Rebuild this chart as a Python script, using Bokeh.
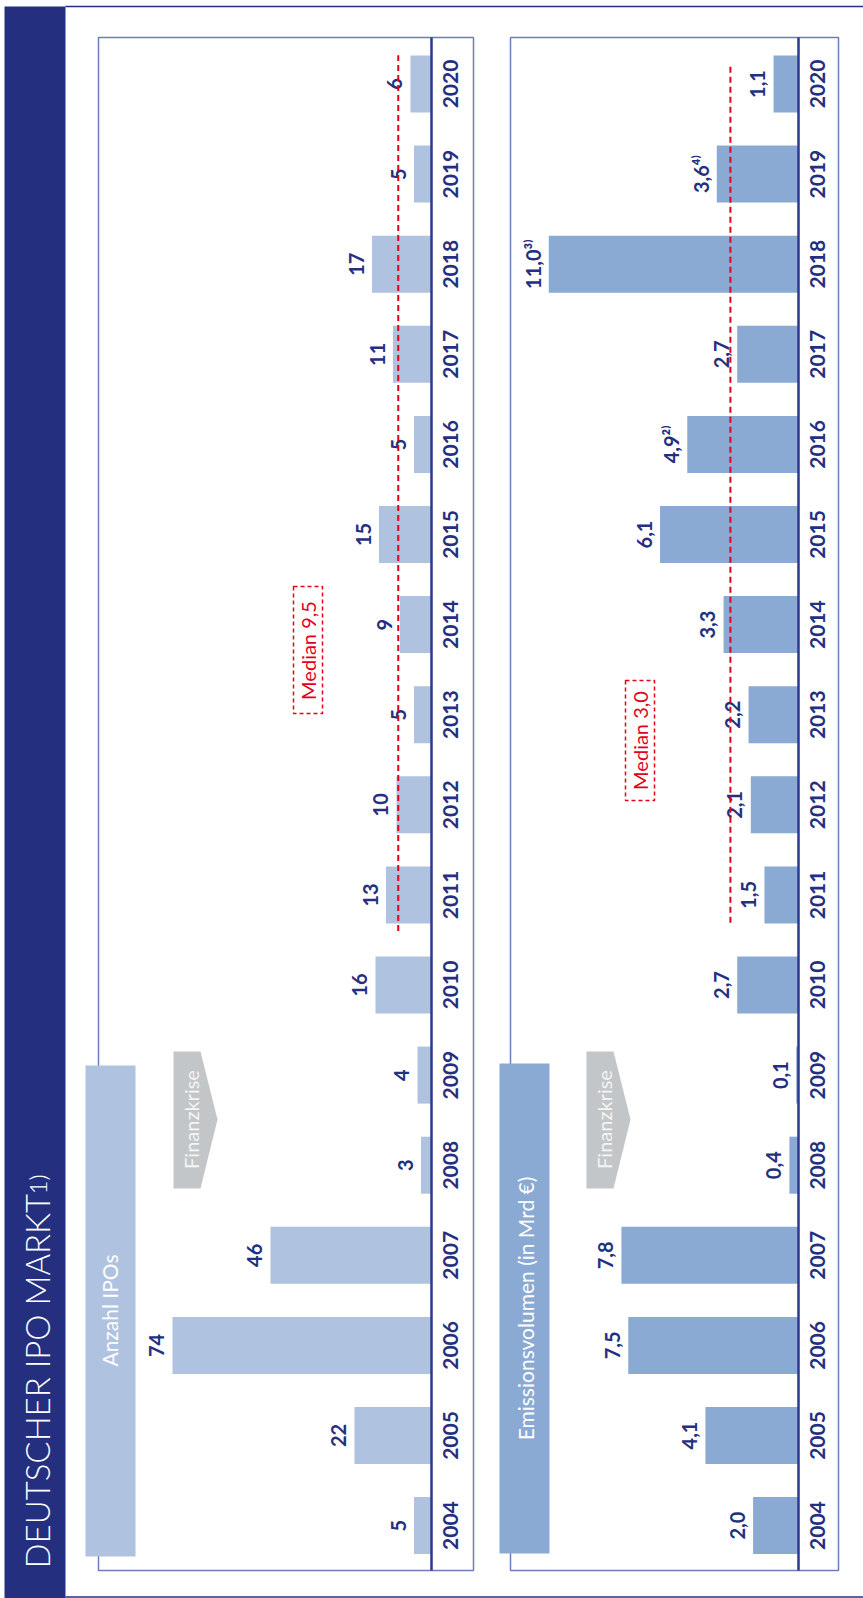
import math
from bokeh.plotting import figure
from bokeh.models import Range1d, ColumnDataSource
from bokeh.core.properties import value
from bokeh.transform import dodge
from bokeh.embed import file_html
from bokeh.resources import INLINE

# ---------------- data ----------------
years = list(range(2004, 2021))
year_labels = [str(y) for y in years]
ipo_count = [5, 22, 74, 46, 3, 4, 16, 13, 10, 5, 9, 15, 5, 11, 17, 5, 6]
ipo_labels = ["5", "22", "74", "46", "3", "4", "16", "13", "10", "5", "9", "15", "5", "11", "17", "5", "6"]
volume = [2.0, 4.1, 7.5, 7.8, 0.4, 0.1, 2.7, 1.5, 2.1, 2.2, 3.3, 6.1, 4.9, 2.7, 11.0, 3.6, 1.1]
volume_labels = ["2,0", "4,1", "7,5", "7,8", "0,4", "0,1", "2,7", "1,5", "2,1", "2,2",
                 "3,3", "6,1", "4,9²⁾", "2,7", "11,0³⁾", "3,6⁴⁾", "1,1"]
median_ipo = 9.5
median_ipo_label = "Median 9,5"
median_volume = 3.0
median_volume_label = "Median 3,0"
median_first_year = 2011
median_last_year = 2020
title = "DEUTSCHER IPO MARKT"
title_note = "1)"
panel_titles = ["Anzahl IPOs", "Emissionsvolumen (in Mrd €)"]
crisis_label = "Finanzkrise"

# ---------------- styling / layout ----------------
W, H = 863, 1598
NAVY = "#24307f"
FRAME = "#6d7db9"
BAR1 = "#afc2e0"
BAR2 = "#8aa9d3"
RED = "#e2001a"
GREY = "#c3c6c9"
FONT = value("Lato")
UP = math.pi / 2

Y_TOP_CENTER = 83.5      # pixel centre of last year
Y_STEP = 90.1            # pixels per year
BAR_H = 57 / Y_STEP

IPO_BASE, IPO_K = 431.0, 3.5
VOL_BASE, VOL_K = 798.0, 22.7
LABEL_GAP = 16           # px from bar end to centre of value label

yr_start = years[-1] - (H - Y_TOP_CENTER) / Y_STEP
yr_end = years[-1] + Y_TOP_CENTER / Y_STEP

p = figure(width=W, height=H, x_range=Range1d(0, W), y_range=Range1d(H, 0),
           output_backend="svg", toolbar_location=None, min_border=0,
           x_axis_location=None, y_axis_location=None)
for r in list(p.center):
    r.visible = False
p.outline_line_color = None
p.background_fill_color = "white"
p.border_fill_color = "white"
p.extra_y_ranges = {"yr": Range1d(yr_start, yr_end)}
p.extra_x_ranges = {
    "ipo": Range1d(IPO_BASE / IPO_K, -(W - IPO_BASE) / IPO_K),
    "vol": Range1d(VOL_BASE / VOL_K, -(W - VOL_BASE) / VOL_K),
}

# ---- page decoration ----
p.quad(left=4, right=65, top=6, bottom=H, fill_color=NAVY, line_color=None)
p.segment(x0=[65, 65], y0=[6, H - 1.5], x1=[W, W], y1=[6, H - 1.5], line_color=NAVY, line_width=1.5)
p.text(x=[36], y=[1568], text=[title], angle=UP, text_color="white",
       text_font=value("Lato Light"), text_font_size="33px", text_align="left",
       text_baseline="middle")
p.text(x=[37], y=[1194], text=[title_note], angle=UP, text_color="white",
       text_font=value("Lato Light"), text_font_size="24px", text_align="left",
       text_baseline="middle")

# panel frames
p.quad(left=[98, 510], right=[473, 838], top=[37, 37], bottom=[1570, 1570],
       fill_color=None, line_color=FRAME, line_width=1.5)

# ---- data: source ----
src = ColumnDataSource(dict(year=years, year_label=year_labels,
                            ipo=ipo_count, ipo_label=ipo_labels,
                            vol=volume, vol_label=volume_labels))

# bars
p.hbar(y="year", left=0, right="ipo", height=BAR_H, source=src, fill_color=BAR1,
       line_color=None, x_range_name="ipo", y_range_name="yr")
p.hbar(y="year", left=0, right="vol", height=BAR_H, source=src, fill_color=BAR2,
       line_color=None, x_range_name="vol", y_range_name="yr")

# baselines
p.segment(x0=[IPO_BASE, VOL_BASE], y0=[37, 37], x1=[IPO_BASE, VOL_BASE], y1=[1570, 1570],
          line_color="#2a3a8c", line_width=2.5)

# panel title boxes
p.quad(left=[85, 499], right=[135, 549], top=[1065, 1063], bottom=[1556, 1553],
       fill_color=[BAR1, BAR2], line_color=None)
p.text(x=[109, 525], y=[1310, 1308], text=panel_titles, angle=UP, text_color="white",
       text_font=FONT, text_font_size="21px", text_align="center", text_baseline="middle")

# crisis arrows
for x0 in (173, 586):
    p.patch(x=[x0, x0 + 27, x0 + 44, x0 + 27, x0], y=[1051, 1051, 1119, 1188, 1188],
            fill_color=GREY, line_color=None)
p.text(x=[190, 603], y=[1119, 1119], text=[crisis_label, crisis_label], angle=UP,
       text_color="#f4f4f4", text_font=FONT, text_font_size="20px", text_align="center",
       text_baseline="middle")

# value labels
p.text(x=dodge("ipo", LABEL_GAP / IPO_K), y="year", text="ipo_label", source=src,
       x_range_name="ipo", y_range_name="yr",
       angle=UP, text_color=NAVY, text_font=FONT, text_font_size="20px",
       text_font_style="bold", text_align="center", text_baseline="middle")
p.text(x=dodge("vol", LABEL_GAP / VOL_K), y="year", text="vol_label", source=src,
       x_range_name="vol", y_range_name="yr",
       angle=UP, text_color=NAVY, text_font=FONT, text_font_size="20px",
       text_font_style="bold", text_align="center", text_baseline="middle")

# year labels
p.text(x=450, y="year", text="year_label", source=src, y_range_name="yr",
       angle=UP, text_color=NAVY, text_font=FONT, text_font_size="21px",
       text_font_style="bold", text_align="center", text_baseline="middle")
p.text(x=817, y="year", text="year_label", source=src, y_range_name="yr",
       angle=UP, text_color=NAVY, text_font=FONT, text_font_size="21px",
       text_font_style="bold", text_align="center", text_baseline="middle")

# median lines
p.segment(x0=[median_ipo], x1=[median_ipo], y0=[median_first_year - 0.4],
          y1=[median_last_year + 0.32], x_range_name="ipo", y_range_name="yr",
          line_color=RED, line_width=2, line_dash="6 4")
p.segment(x0=[median_volume], x1=[median_volume], y0=[median_first_year - 0.31],
          y1=[median_last_year + 0.23], x_range_name="vol", y_range_name="yr",
          line_color=RED, line_width=2, line_dash="6 4")

# median label boxes
p.quad(left=[293, 625], right=[322, 654], top=[586, 680], bottom=[713, 800],
       fill_color=None, line_color=RED, line_width=1.5, line_dash="4 3")
p.text(x=[307.5, 639.5], y=[650, 740], text=[median_ipo_label, median_volume_label],
       angle=UP, text_color=RED, text_font=FONT, text_font_size="20px",
       text_align="center", text_baseline="middle")

open("out.html", "w").write(file_html(p, INLINE))
